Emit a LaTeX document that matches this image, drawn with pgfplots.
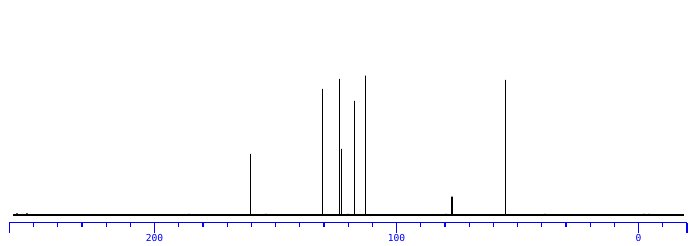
\documentclass[border=0pt]{standalone}
\usepackage{fontspec}
\setmonofont{DejaVu Sans Mono}
\usepackage{pgfplots}
\pgfplotsset{compat=1.18}
\definecolor{axblue}{RGB}{0,0,255}
\begin{document}
\begin{tikzpicture}[x=1pt,y=1pt]
\useasboundingbox (-9.33,-23.3) rectangle (687.67,222.7);
\begin{axis}[
  at={(0,0)}, anchor=south west,
  scale only axis, width=677.67pt, height=222.7pt,
  x dir=reverse, xmin=-20, xmax=260, ymin=-7.7, ymax=215,
  axis x line*=bottom, axis y line=none, ytick=\empty,
  axis line style={axblue, line width=1.2pt, -},
  xtick={0,100,200},
  minor xtick={-20,-10,...,260},
  extra x ticks={-20,260}, extra x tick labels={},
  tick align=outside, major tick length=10pt, minor tick length=4pt,
  tick style={axblue, line width=1.2pt},
  /pgf/number format/assume math mode=true,
  xticklabel style={font=\fontsize{9.6}{10}\selectfont\ttfamily, text=axblue, inner sep=1pt},
  clip=false,
]
% baseline with small noise bumps
\addplot[black, line width=1.8pt, line join=miter] coordinates {
  (258.4,0) (256.7,0) (256.7,1.5) (256.7,0) (252.6,0) (252.6,1.5) (252.6,0)
  (185.6,0) (185.6,1.2) (185.6,0) (154.1,0) (154.1,1.2) (154.1,0)
  (119.9,0) (119.9,1.2) (119.9,0) (79.6,0) (79.6,1.2) (79.6,0)
  (38.6,0) (38.6,1.2) (38.6,0) (-2.1,0) (-2.1,1.2) (-2.1,0)
  (-4.2,0) (-4.2,1.2) (-4.2,0) (-18.6,0)
};
% resonance lines
\addplot[black, line width=1.2pt, line join=miter] coordinates {
  (160.3,0) (160.3,61) (160.3,0)
  (130.7,0) (130.7,126) (130.7,0)
  (123.7,0) (123.7,136) (123.7,0)
  (122.8,0) (122.8,66) (122.8,0)
  (117.4,0) (117.4,114) (117.4,0)
  (112.9,0) (112.9,139.3) (112.9,0)
  (77.3,0) (77.3,17.5) (77.3,0)
  (77.1,0) (77.1,18.3) (77.1,0)
  (55.1,0) (55.1,135) (55.1,0)
};
\end{axis}
\end{tikzpicture}
\end{document}
